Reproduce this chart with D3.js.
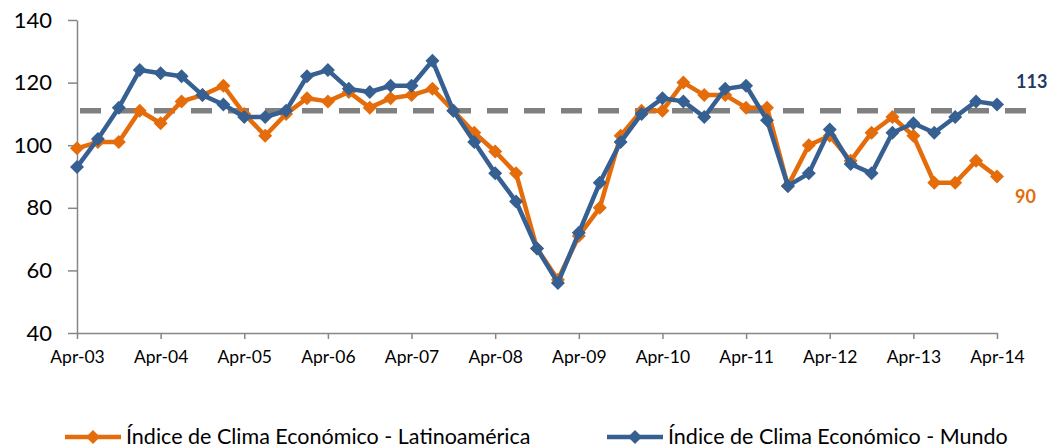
<!DOCTYPE html>
<html>
<head>
<meta charset="utf-8">
<script src="https://cdn.jsdelivr.net/npm/d3@7"></script>
<style>
  body { margin:0; background:#fff; }
  text { font-family: Lato, "Noto Sans", sans-serif; }
</style>
</head>
<body>
<script>
var quarters = ["Apr-03","Jul-03","Oct-03","Jan-04","Apr-04","Jul-04","Oct-04","Jan-05",
    "Apr-05","Jul-05","Oct-05","Jan-06","Apr-06","Jul-06","Oct-06","Jan-07",
    "Apr-07","Jul-07","Oct-07","Jan-08","Apr-08","Jul-08","Oct-08","Jan-09",
    "Apr-09","Jul-09","Oct-09","Jan-10","Apr-10","Jul-10","Oct-10","Jan-11",
    "Apr-11","Jul-11","Oct-11","Jan-12","Apr-12","Jul-12","Oct-12","Jan-13",
    "Apr-13","Jul-13","Oct-13","Jan-14","Apr-14"];

var latam = [99,101,101,111,107,114,116,119,110,103,110,115,114,117,112,115,116,118,111,104,98,91,67,57,
    71,80,103,111,111,120,116,116,112,112,87,100,103,95,104,109,103,88,88,95,90];

var mundo = [93,102,112,124,123,122,116,113,109,109,111,122,124,118,117,119,119,127,111,101,91,82,67,56,
    72,88,101,110,115,114,109,118,119,108,87,91,105,94,91,104,107,104,109,114,113];

var refLine = 111;
var yTicks = [40,60,80,100,120,140];
var seriesNames = ["Índice de Clima Económico - Latinoamérica","Índice de Clima Económico - Mundo"];
var colors = ["#e46c0a","#376092"];

var width = 1060, height = 448;

var svg = d3.select("body").append("svg")
    .attr("width", width)
    .attr("height", height);

var x = d3.scalePoint()
    .domain(quarters)
    .range([77, 997]);

var y = d3.scaleLinear()
    .domain([40, 140])
    .range([333, 20]);

// axes
var yAxis = svg.append("g")
    .attr("transform", "translate(77,0)")
    .call(d3.axisLeft(y).tickValues(yTicks).tickSize(9).tickPadding(16).tickSizeOuter(0));
yAxis.selectAll("text").style("font-size","22px").attr("fill","#000");

var xAxis = svg.append("g")
    .attr("transform", "translate(0,333)")
    .call(d3.axisBottom(x)
        .tickValues(quarters.filter(function(d){ return d.indexOf("Apr") === 0; }))
        .tickSize(6).tickPadding(12).tickSizeOuter(0));
xAxis.selectAll("text").style("font-size","17.5px").attr("fill","#000");

svg.selectAll(".domain, .tick line")
    .attr("stroke", "#868686")
    .attr("stroke-width", 1.5);

// reference dashed line
svg.append("line")
    .attr("x1", 80).attr("x2", 1036)
    .attr("y1", y(refLine)).attr("y2", y(refLine))
    .attr("stroke", "#808080")
    .attr("stroke-width", 5.5)
    .attr("stroke-dasharray", "21,16");

var diamond = function(s){ return "M0,"+(-s)+"L"+s+",0L0,"+s+"L"+(-s)+",0Z"; };

var line = d3.line()
    .x(function(d,i){ return x(quarters[i]); })
    .y(function(d){ return y(d); });

[latam, mundo].forEach(function(vals, k){
    svg.append("path")
        .datum(vals)
        .attr("d", line)
        .attr("fill", "none")
        .attr("stroke", colors[k])
        .attr("stroke-width", 4.5)
        .attr("stroke-linejoin", "round");
    svg.append("g").selectAll("path")
        .data(vals)
        .enter().append("path")
        .attr("d", diamond(7))
        .attr("transform", function(d,i){ return "translate("+x(quarters[i])+","+y(d)+")"; })
        .attr("fill", colors[k]);
});

// end labels
svg.append("text")
    .attr("x", 1016).attr("y", y(mundo[mundo.length-1]) - 17)
    .attr("font-size", "18px").attr("font-weight", "bold")
    .attr("fill", "#1f3864")
    .text(mundo[mundo.length-1]);
svg.append("text")
    .attr("x", 1015).attr("y", y(latam[latam.length-1]) + 26)
    .attr("font-size", "18px").attr("font-weight", "bold")
    .attr("fill", "#e46c0a")
    .text(latam[latam.length-1]);

// legend
var legendX = [65, 607];
seriesNames.forEach(function(name, k){
    var g = svg.append("g").attr("transform", "translate("+legendX[k]+",437)");
    g.append("line")
        .attr("x1", 0).attr("x2", 56)
        .attr("stroke", colors[k]).attr("stroke-width", 4.5);
    g.append("path")
        .attr("d", diamond(7))
        .attr("transform", "translate(28,0)")
        .attr("fill", colors[k]);
    g.append("text")
        .attr("x", 61).attr("y", 7)
        .attr("font-size", "21.5px")
        .attr("fill", "#000")
        .text(name);
});
</script>
</body>
</html>
